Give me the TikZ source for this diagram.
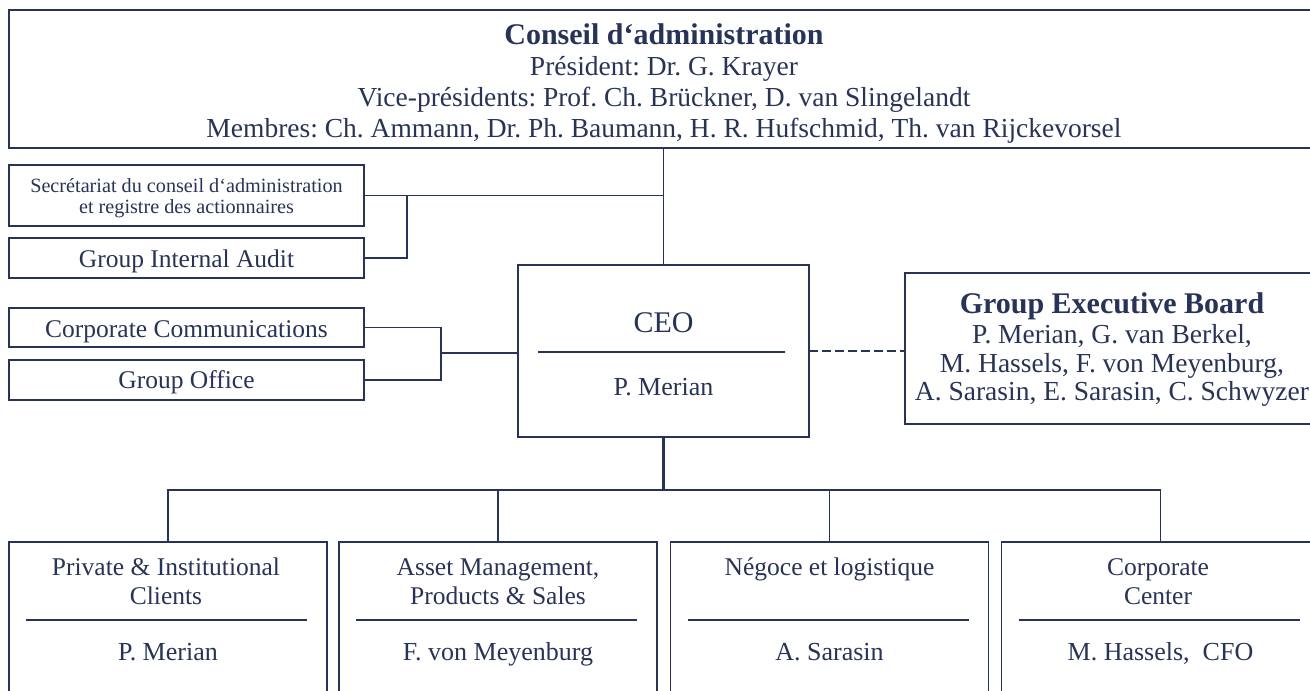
\documentclass[tikz,border=0pt]{standalone}
\usepackage{fontspec}
\setmainfont{Liberation Serif}
\frenchspacing
\definecolor{navy}{RGB}{39,51,89}
\tikzset{
  box/.style={draw=navy, line width=1.8pt, rectangle, inner sep=0pt, outer sep=0pt},
  txt/.style={text=navy, anchor=base, inner sep=0pt, font=\fontsize{25.5}{30}\selectfont},
  bigtxt/.style={txt, font=\fontsize{27.5}{32}\selectfont},
  smalltxt/.style={txt, font=\fontsize{20.2}{24}\selectfont},
  ttl/.style={txt, font=\fontsize{30}{34}\selectfont\bfseries},
  ceotxt/.style={txt, font=\fontsize{30}{34}\selectfont},
  nametxt/.style={txt, font=\fontsize{26}{30}\selectfont},
  link/.style={draw=navy, line width=1.8pt},
  thicklink/.style={draw=navy, line width=2.8pt},
  dashlink/.style={draw=navy, line width=1.8pt, dash pattern=on 9pt off 4pt},
  sepline/.style={draw=navy, line width=1.8pt},
  unit/.style={box, minimum width=318, minimum height=178}
}
\begin{document}
\begin{tikzpicture}[x=1pt,y=-1pt]
\useasboundingbox (0,0) rectangle (1310,691);
\clip (0,0) rectangle (1310,691);

% Conseil d'administration
\node[box, minimum width=1311, minimum height=138] (cda) at (664.5,79) {};
\node[ttl] (cdaT) at (664,44) {Conseil d‘administration};
\node[bigtxt] (cda1) at (664,75) {Président: Dr. G. Krayer};
\node[bigtxt] (cda2) at (664,106) {Vice-présidents: Prof. Ch. Brückner, D. van Slingelandt};
\node[bigtxt] (cda3) at (664,137) {Membres: Ch. Ammann, Dr. Ph. Baumann, H. R. Hufschmid, Th. van Rijckevorsel};

% Staff boxes
\node[box, minimum width=355, minimum height=61] (sec) at (186.5,195.5) {};
\node[smalltxt] (sec1) at (186.5,192) {Secrétariat du conseil d‘administration};
\node[smalltxt] (sec2) at (186.5,213) {et registre des actionnaires};
\node[box, minimum width=355, minimum height=40] (aud) at (186.5,258) {};
\node[txt] (audT) at (186.5,267) {Group Internal Audit};
\node[box, minimum width=355, minimum height=39] (com) at (186.5,327.5) {};
\node[txt] (comT) at (186.5,337) {Corporate Communications};
\node[box, minimum width=355, minimum height=40] (off) at (186.5,380) {};
\node[txt] (offT) at (186.5,388) {Group Office};

% CEO
\node[box, minimum width=291, minimum height=172] (ceo) at (663.5,351) {};
\node[ceotxt] (ceoT) at (663.5,332) {CEO};
\coordinate (ceoSL) at (538,352);
\coordinate (ceoSR) at (785,352);
\draw[sepline] (ceoSL) -- (ceoSR);
\node[nametxt] (ceoN) at (663.5,395) {P. Merian};

% Group Executive Board
\node[box, minimum width=415, minimum height=151] (geb) at (1112.5,348.5) {};
\node[ttl] (gebT) at (1112,313) {Group Executive Board};
\node[bigtxt] (geb1) at (1112,343) {P. Merian, G. van Berkel,};
\node[bigtxt] (geb2) at (1112,372) {M. Hassels, F. von Meyenburg,};
\node[bigtxt] (geb3) at (1112,400) {A. Sarasin, E. Sarasin, C. Schwyzer};

% Business units
\node[unit] (b1) at (168,631) {};
\node[unit] (b2) at (498,631) {};
\node[unit] (b3) at (829.5,631) {};
\node[unit] (b4) at (1160.5,631) {};

\node[txt] (b1a) at (166,575) {Private \& Institutional};
\node[txt] (b1b) at (166,604) {Clients};
\node[nametxt] (b1n) at (168,660) {P. Merian};
\node[txt] (b2a) at (498,575) {Asset Management,};
\node[txt] (b2b) at (498,604) {Products \& Sales};
\node[nametxt] (b2n) at (498,660) {F. von Meyenburg};
\node[txt] (b3a) at (829.5,575) {Négoce et logistique};
\node[nametxt] (b3n) at (829.5,660) {A. Sarasin};
\node[txt] (b4a) at (1158,575) {Corporate};
\node[txt] (b4b) at (1158,604) {Center};
\node[nametxt] (b4n) at (1160.5,660) {M. Hassels,~~CFO};

\foreach \b in {b1,b2,b3,b4}{
  \draw[sepline] ([xshift=17pt]\b.west |- 0,620) -- ([xshift=-20pt]\b.east |- 0,620);
}

% Connectors
\draw[link] (ceo.north |- cda.south) -- (ceo.north);
\draw[link] (sec.east) -- (sec.east -| ceo.north);
\coordinate (j1) at (407,195.5);
\draw[link] (aud.east) -| (j1);
\coordinate (j2) at (441,353);
\draw[link] (com.east) -| (j2) |- (off.east);
\draw[link] (j2) -- (ceo.west |- j2);
\draw[dashlink] (ceo.east) -- (ceo.east -| geb.west);

\coordinate (bus) at (664,490);
\draw[thicklink] (ceo.south) -- (ceo.south |- bus);
\draw[link] (b1.north) -- (b1.north |- bus) -- (b4.north |- bus) -- (b4.north);
\draw[link] (b2.north) -- (b2.north |- bus);
\draw[link] (b3.north) -- (b3.north |- bus);
\end{tikzpicture}
\end{document}
